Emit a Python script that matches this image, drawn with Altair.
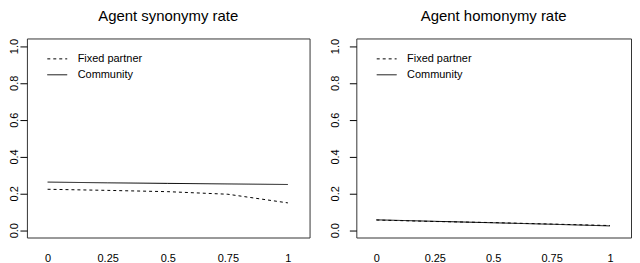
import altair as alt
import pandas as pd

x_vals = [0, 0.25, 0.5, 0.75, 1]
series_names = ["Fixed partner", "Community"]

syn_fixed = [0.222, 0.216, 0.209, 0.195, 0.148]
syn_comm = [0.261, 0.257, 0.254, 0.251, 0.248]
hom_fixed = [0.055, 0.047, 0.041, 0.033, 0.025]
hom_comm = [0.056, 0.048, 0.040, 0.032, 0.023]

y_ticks = [0, 0.2, 0.4, 0.6, 0.8, 1.0]
x_ticks = [0, 0.25, 0.5, 0.75, 1]

FONT = "Liberation Sans"


def make_df(fixed, comm):
    rows = []
    for x, v in zip(x_vals, fixed):
        rows.append({"x": x, "y": v, "series": series_names[0]})
    for x, v in zip(x_vals, comm):
        rows.append({"x": x, "y": v, "series": series_names[1]})
    return pd.DataFrame(rows)


def panel(df, title, width, label_pad):
    return (
        alt.Chart(df, title=alt.TitleParams(title, fontSize=15, font=FONT,
                                            fontWeight="normal", offset=14,
                                            color="black"))
        .mark_line(color="black", strokeWidth=1)
        .encode(
            x=alt.X("x:Q", scale=alt.Scale(domain=[-0.086, 1.09], nice=False, zero=False),
                    axis=alt.Axis(values=x_ticks, labelExpr="format(datum.value, '.2~f')",
                                  title=None, ticks=False,
                                  domain=False, grid=False, labelPadding=15,
                                  labelFontSize=11, labelFont=FONT, labelColor="black",
                                  labelFlush=False)),
            y=alt.Y("y:Q", scale=alt.Scale(domain=[-0.04, 1.041], nice=False, zero=False),
                    axis=alt.Axis(values=y_ticks, format=".1f", title=None, grid=False,
                                  domain=False, tickSize=7, tickColor="black",
                                  labelAngle=270, labelAlign="center", labelBaseline="bottom",
                                  labelPadding=label_pad, labelFontSize=11, labelFont=FONT,
                                  labelColor="black", labelFlush=False)),
            strokeDash=alt.StrokeDash(
                "series:N",
                scale=alt.Scale(domain=series_names, range=[[3, 3], [1, 0]]),
                legend=alt.Legend(title=None, orient="none", legendX=20, legendY=10,
                                  symbolType="stroke", symbolSize=400,
                                  symbolStrokeColor="black", symbolStrokeWidth=1,
                                  labelFontSize=11, labelFont=FONT, labelColor="black",
                                  labelOffset=10, rowPadding=-6, padding=0,
                                  labelBaseline="middle"),
            ),
            order=alt.Order("series:N", sort="ascending"),
        )
        .properties(width=width, height=200)
    )


left = panel(make_df(syn_fixed, syn_comm), "Agent synonymy rate", 284, 0)
right = panel(make_df(hom_fixed, hom_comm), "Agent homonymy rate", 276, 9)

chart = (
    alt.hconcat(left, right, spacing=18)
    .resolve_legend(strokeDash="independent")
    .resolve_scale(strokeDash="independent")
    .configure_view(stroke="#333", strokeWidth=1)
    .properties(padding=0, background="white")
)

chart.save("out.html", embed_options={"renderer": "svg", "actions": False})
